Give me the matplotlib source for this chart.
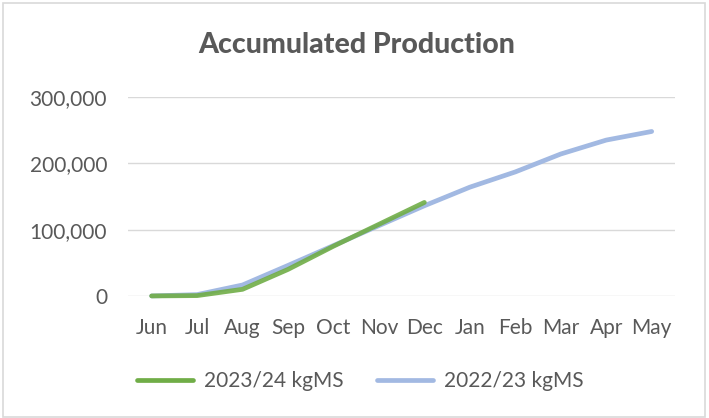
import matplotlib
matplotlib.use('Agg')
import matplotlib.pyplot as plt
from matplotlib.patches import Rectangle
from matplotlib.ticker import FuncFormatter

months = ['Jun', 'Jul', 'Aug', 'Sep', 'Oct', 'Nov', 'Dec',
          'Jan', 'Feb', 'Mar', 'Apr', 'May']
prod_2324 = [0, 500, 10000, 40000, 75000, 108000, 141000]
prod_2223 = [0, 2000, 16500, 46000, 76000, 106000, 136000,
             164000, 187000, 214000, 235000, 248000]

green = '#70AD47'
blue = '#A2B9E2'
text_col = '#595959'
plt.rcParams['font.family'] = ['Lato', 'DejaVu Sans']

fig = plt.figure(figsize=(7.09, 4.18), dpi=100)
ax = fig.add_axes([0.1805, 0.292, 0.772, 0.476])

x_all = list(range(len(months)))
ax.plot(x_all, prod_2223, color=blue, linewidth=3.4, solid_capstyle='round',
        label='2022/23 kgMS', clip_on=False, zorder=3)
ax.plot(x_all[:len(prod_2324)], prod_2324, color=green, linewidth=3.4,
        solid_capstyle='round', label='2023/24 kgMS', clip_on=False,
        zorder=4, alpha=0.9)

ax.set_xlim(-0.52, 11.52)
ax.set_ylim(0, 300000)
ax.set_yticks([0, 100000, 200000, 300000])
ax.yaxis.set_major_formatter(FuncFormatter(lambda v, p: f'{int(v):,}'))
ax.set_xticks(x_all)
ax.set_xticklabels(months)
ax.grid(axis='y', color='#D9D9D9', linewidth=1)
ax.set_axisbelow(True)
for s in ax.spines.values():
    s.set_visible(False)
ax.tick_params(length=0, labelsize=15, colors=text_col)
ax.tick_params(axis='x', pad=16)
ax.tick_params(axis='y', pad=15)

fig.text(0.503, 0.893, 'Accumulated Production', ha='center', va='center',
         fontsize=20.5, fontweight='black', color=text_col)

handles, labels = ax.get_legend_handles_labels()
leg = fig.legend(handles[::-1], labels[::-1], loc='center', ncol=2,
                 bbox_to_anchor=(0.508, 0.088), frameon=False, fontsize=15,
                 handlelength=2.7, columnspacing=1.6, handletextpad=0.5)
for t in leg.get_texts():
    t.set_color(text_col)
for line in leg.get_lines():
    line.set_alpha(1)

fig.patches.append(Rectangle((0.004, 0.003), 0.99, 0.99, transform=fig.transFigure,
                             fill=False, edgecolor='#D9D9D9', linewidth=1.2))

fig.savefig('out.png', dpi=100)
